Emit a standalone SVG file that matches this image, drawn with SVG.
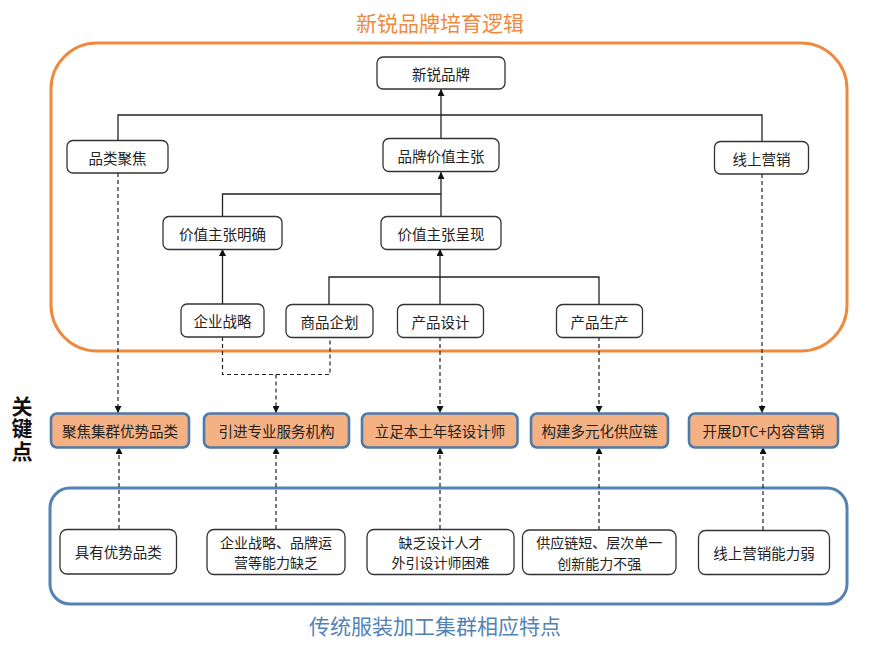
<svg xmlns="http://www.w3.org/2000/svg" width="885" height="647" viewBox="0 0 885 647">
<defs>
<marker id="ah" viewBox="0 0 10 10" refX="10" refY="5" markerWidth="7" markerHeight="7" orient="auto" markerUnits="userSpaceOnUse">
<path d="M0,0 L10,5 L0,10 z" fill="#111"/>
</marker>
</defs>
<style>
text{font-family:"Noto Sans CJK SC","Noto Sans",sans-serif;text-anchor:middle;dominant-baseline:central}
.node rect{fill:#fff;stroke:#333;stroke-width:1.3}
.node text{font-size:14.5px;fill:#222}
.node text.two{font-size:14px}
.key rect{fill:#F4B183;stroke:#4E7AAB;stroke-width:2.6}
.key text{font-size:14.5px;fill:#222}
.ln{fill:none;stroke:#222;stroke-width:1.3}
.ds{fill:none;stroke:#222;stroke-width:1.2;stroke-dasharray:4 3}
</style>
<rect width="885" height="647" fill="#fff"/>

<g id="top-frame">
<rect x="51" y="43" width="796" height="308" rx="46" fill="none" stroke="#EE8A40" stroke-width="3"/>
<text x="440" y="22" font-size="21" fill="#EE8A40">新锐品牌培育逻辑</text>
</g>
<g id="bottom-frame">
<rect x="50" y="488" width="797" height="116" rx="20" fill="none" stroke="#5482B4" stroke-width="3"/>
<text x="435" y="625" font-size="21" fill="#5482B4">传统服装加工集群相应特点</text>
</g>
<g id="key-label">
<text x="22" y="429" font-size="21" font-weight="bold" fill="#111" writing-mode="vertical-rl" letter-spacing="1.5">关键点</text>
</g>

<g id="connectors">
<path class="ln" d="M118,140 V115 H762 V142"/>
<path class="ln" d="M441,139 V115"/>
<path class="ln" d="M441,115 V89" marker-end="url(#ah)"/>
<path class="ln" d="M222.5,217 V194 H441"/>
<path class="ln" d="M441,217 V172" marker-end="url(#ah)"/>
<path class="ln" d="M222.5,304 V249" marker-end="url(#ah)"/>
<path class="ln" d="M329,305 V277 H599 V304"/>
<path class="ln" d="M440,304 V249" marker-end="url(#ah)"/>

<path class="ds" d="M118,173 V413" marker-end="url(#ah)"/>
<path class="ds" d="M222.5,337 V374.5 H330 V337"/>
<path class="ds" d="M276,374.5 V413" marker-end="url(#ah)"/>
<path class="ds" d="M440,337 V413" marker-end="url(#ah)"/>
<path class="ds" d="M599,337 V413" marker-end="url(#ah)"/>
<path class="ds" d="M762,174 V413" marker-end="url(#ah)"/>

<path class="ds" d="M119,529 V447" marker-end="url(#ah)"/>
<path class="ds" d="M276,529 V447" marker-end="url(#ah)"/>
<path class="ds" d="M440,529 V447" marker-end="url(#ah)"/>
<path class="ds" d="M599,530 V447" marker-end="url(#ah)"/>
<path class="ds" d="M763,530 V447" marker-end="url(#ah)"/>
</g>

<g id="n-brand" class="node"><rect x="377" y="57" width="128" height="32" rx="6"/><text x="441" y="73">新锐品牌</text></g>
<g id="n-category" class="node"><rect x="67" y="140.5" width="101" height="32.5" rx="6"/><text x="117.5" y="157">品类聚焦</text></g>
<g id="n-value" class="node"><rect x="383" y="138.5" width="116" height="33" rx="6"/><text x="441" y="155">品牌价值主张</text></g>
<g id="n-online" class="node"><rect x="714.5" y="141.5" width="94" height="32.5" rx="6"/><text x="761.5" y="158">线上营销</text></g>
<g id="n-clear" class="node"><rect x="163" y="216.5" width="119" height="33" rx="6"/><text x="222.5" y="233">价值主张明确</text></g>
<g id="n-present" class="node"><rect x="381" y="216.5" width="120" height="33" rx="6"/><text x="441" y="233">价值主张呈现</text></g>
<g id="n-strategy" class="node"><rect x="181" y="304" width="83" height="33" rx="6"/><text x="222.5" y="320.5">企业战略</text></g>
<g id="n-planning" class="node"><rect x="286" y="304.5" width="87" height="33" rx="6"/><text x="329.5" y="321">商品企划</text></g>
<g id="n-design" class="node"><rect x="397.5" y="304.5" width="86" height="33" rx="6"/><text x="440.5" y="321">产品设计</text></g>
<g id="n-production" class="node"><rect x="556.5" y="304.5" width="86" height="33" rx="6"/><text x="599.5" y="321">产品生产</text></g>

<g id="k1" class="key"><rect x="51" y="413.5" width="138" height="34" rx="6"/><text x="120" y="430.5">聚焦集群优势品类</text></g>
<g id="k2" class="key"><rect x="204" y="413.5" width="145" height="34" rx="6"/><text x="276.5" y="430.5">引进专业服务机构</text></g>
<g id="k3" class="key"><rect x="362" y="413.5" width="155.5" height="34" rx="6"/><text x="440" y="430.5">立足本土年轻设计师</text></g>
<g id="k4" class="key"><rect x="531" y="413.5" width="137" height="34" rx="6"/><text x="599.5" y="430.5">构建多元化供应链</text></g>
<g id="k5" class="key"><rect x="689" y="413.5" width="149" height="34" rx="6"/><text x="763.5" y="430.5">开展DTC+内容营销</text></g>

<g id="b1" class="node"><rect x="60" y="529.5" width="116.5" height="44.5" rx="7"/><text x="118.3" y="551.7">具有优势品类</text></g>
<g id="b2" class="node"><rect x="207" y="529.5" width="138" height="45" rx="7"/><text class="two" x="276" y="541.8">企业战略、品牌运</text><text class="two" x="276" y="562.3">营等能力缺乏</text></g>
<g id="b3" class="node"><rect x="367" y="529.5" width="147" height="45" rx="7"/><text class="two" x="440.5" y="541.8">缺乏设计人才</text><text class="two" x="440.5" y="562.3">外引设计师困难</text></g>
<g id="b4" class="node"><rect x="522.5" y="530" width="153.5" height="44.5" rx="7"/><text class="two" x="599.3" y="542">供应链短、层次单一</text><text class="two" x="599.3" y="562.5">创新能力不强</text></g>
<g id="b5" class="node"><rect x="698.5" y="530.5" width="131" height="44" rx="7"/><text x="764" y="552.5">线上营销能力弱</text></g>
</svg>
